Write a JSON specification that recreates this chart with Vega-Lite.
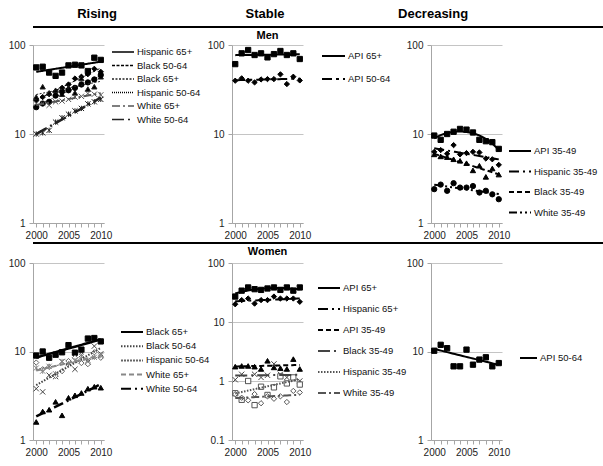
{
"$schema": "https://vega.github.io/schema/vega-lite/v6.json",
"padding": {"left": 8, "top": 0, "right": 2, "bottom": 2},
"background": "white",
"datasets": {
"mr": [
{"s":"Hispanic 65+","yr":2000,"v":56},{"s":"Hispanic 65+","yr":2001,"v":57},{"s":"Hispanic 65+","yr":2002,"v":49},{"s":"Hispanic 65+","yr":2003,"v":45},{"s":"Hispanic 65+","yr":2004,"v":49},{"s":"Hispanic 65+","yr":2005,"v":59},{"s":"Hispanic 65+","yr":2006,"v":60},{"s":"Hispanic 65+","yr":2007,"v":59},{"s":"Hispanic 65+","yr":2008,"v":51},{"s":"Hispanic 65+","yr":2009,"v":72},{"s":"Hispanic 65+","yr":2010,"v":68},
{"s":"Black 50-64","yr":2000,"v":24},{"s":"Black 50-64","yr":2001,"v":26},{"s":"Black 50-64","yr":2002,"v":28},{"s":"Black 50-64","yr":2003,"v":30},{"s":"Black 50-64","yr":2004,"v":33},{"s":"Black 50-64","yr":2005,"v":36},{"s":"Black 50-64","yr":2006,"v":42},{"s":"Black 50-64","yr":2007,"v":44},{"s":"Black 50-64","yr":2008,"v":47},{"s":"Black 50-64","yr":2009,"v":54},{"s":"Black 50-64","yr":2010,"v":50},
{"s":"Black 65+","yr":2000,"v":26},{"s":"Black 65+","yr":2001,"v":34},{"s":"Black 65+","yr":2002,"v":29},{"s":"Black 65+","yr":2003,"v":31},{"s":"Black 65+","yr":2004,"v":28},{"s":"Black 65+","yr":2005,"v":33},{"s":"Black 65+","yr":2006,"v":29},{"s":"Black 65+","yr":2007,"v":42},{"s":"Black 65+","yr":2008,"v":32},{"s":"Black 65+","yr":2009,"v":34},{"s":"Black 65+","yr":2010,"v":44},
{"s":"Hispanic 50-64","yr":2000,"v":20},{"s":"Hispanic 50-64","yr":2001,"v":22},{"s":"Hispanic 50-64","yr":2002,"v":23},{"s":"Hispanic 50-64","yr":2003,"v":27},{"s":"Hispanic 50-64","yr":2004,"v":30},{"s":"Hispanic 50-64","yr":2005,"v":31},{"s":"Hispanic 50-64","yr":2006,"v":33},{"s":"Hispanic 50-64","yr":2007,"v":36},{"s":"Hispanic 50-64","yr":2008,"v":38},{"s":"Hispanic 50-64","yr":2009,"v":41},{"s":"Hispanic 50-64","yr":2010,"v":46},
{"s":"White 65+","yr":2000,"v":22},{"s":"White 65+","yr":2001,"v":22},{"s":"White 65+","yr":2002,"v":21},{"s":"White 65+","yr":2003,"v":23},{"s":"White 65+","yr":2004,"v":23.5},{"s":"White 65+","yr":2005,"v":24.5},{"s":"White 65+","yr":2006,"v":26},{"s":"White 65+","yr":2007,"v":26.5},{"s":"White 65+","yr":2008,"v":28.5},{"s":"White 65+","yr":2009,"v":28},{"s":"White 65+","yr":2010,"v":27.5},
{"s":"White 50-64","yr":2000,"v":10},{"s":"White 50-64","yr":2001,"v":10.3},{"s":"White 50-64","yr":2002,"v":11},{"s":"White 50-64","yr":2003,"v":13.6},{"s":"White 50-64","yr":2004,"v":15.2},{"s":"White 50-64","yr":2005,"v":16.7},{"s":"White 50-64","yr":2006,"v":18.2},{"s":"White 50-64","yr":2007,"v":19.4},{"s":"White 50-64","yr":2008,"v":21.8},{"s":"White 50-64","yr":2009,"v":23},{"s":"White 50-64","yr":2010,"v":24.5}
],
"ms": [
{"s":"API 65+","yr":2000,"v":61},{"s":"API 65+","yr":2001,"v":80.6},{"s":"API 65+","yr":2002,"v":87.8},{"s":"API 65+","yr":2003,"v":77.2},{"s":"API 65+","yr":2004,"v":80.6},{"s":"API 65+","yr":2005,"v":72.6},{"s":"API 65+","yr":2006,"v":79},{"s":"API 65+","yr":2007,"v":85.6},{"s":"API 65+","yr":2008,"v":77.2},{"s":"API 65+","yr":2009,"v":80.6},{"s":"API 65+","yr":2010,"v":69.6},
{"s":"API 50-64","yr":2000,"v":39.7},{"s":"API 50-64","yr":2001,"v":42.2},{"s":"API 50-64","yr":2002,"v":39.7},{"s":"API 50-64","yr":2003,"v":38},{"s":"API 50-64","yr":2004,"v":41},{"s":"API 50-64","yr":2005,"v":41.4},{"s":"API 50-64","yr":2006,"v":41.4},{"s":"API 50-64","yr":2007,"v":46.8},{"s":"API 50-64","yr":2008,"v":36.4},{"s":"API 50-64","yr":2009,"v":44},{"s":"API 50-64","yr":2010,"v":40}
],
"md": [
{"s":"API 35-49","yr":2000,"v":9.6},{"s":"API 35-49","yr":2001,"v":8.6},{"s":"API 35-49","yr":2002,"v":10},{"s":"API 35-49","yr":2003,"v":10.6},{"s":"API 35-49","yr":2004,"v":11.4},{"s":"API 35-49","yr":2005,"v":11.2},{"s":"API 35-49","yr":2006,"v":10.4},{"s":"API 35-49","yr":2007,"v":8.6},{"s":"API 35-49","yr":2008,"v":8.3},{"s":"API 35-49","yr":2009,"v":8.1},{"s":"API 35-49","yr":2010,"v":6.8},
{"s":"Hispanic 35-49","yr":2000,"v":6.3},{"s":"Hispanic 35-49","yr":2001,"v":6.6},{"s":"Hispanic 35-49","yr":2002,"v":6.0},{"s":"Hispanic 35-49","yr":2003,"v":7.5},{"s":"Hispanic 35-49","yr":2004,"v":5.9},{"s":"Hispanic 35-49","yr":2005,"v":6.1},{"s":"Hispanic 35-49","yr":2006,"v":6.3},{"s":"Hispanic 35-49","yr":2007,"v":6.2},{"s":"Hispanic 35-49","yr":2008,"v":5.3},{"s":"Hispanic 35-49","yr":2009,"v":5.2},{"s":"Hispanic 35-49","yr":2010,"v":4.5},
{"s":"Black 35-49","yr":2000,"v":5.9},{"s":"Black 35-49","yr":2001,"v":5.6},{"s":"Black 35-49","yr":2002,"v":5.5},{"s":"Black 35-49","yr":2003,"v":5.2},{"s":"Black 35-49","yr":2004,"v":5.0},{"s":"Black 35-49","yr":2005,"v":4.7},{"s":"Black 35-49","yr":2006,"v":3.9},{"s":"Black 35-49","yr":2007,"v":4.4},{"s":"Black 35-49","yr":2008,"v":3.3},{"s":"Black 35-49","yr":2009,"v":4.1},{"s":"Black 35-49","yr":2010,"v":3.5},
{"s":"White 35-49","yr":2000,"v":2.4},{"s":"White 35-49","yr":2001,"v":2.7},{"s":"White 35-49","yr":2002,"v":2.3},{"s":"White 35-49","yr":2003,"v":2.8},{"s":"White 35-49","yr":2004,"v":2.5},{"s":"White 35-49","yr":2005,"v":2.5},{"s":"White 35-49","yr":2006,"v":2.6},{"s":"White 35-49","yr":2007,"v":2.2},{"s":"White 35-49","yr":2008,"v":2.3},{"s":"White 35-49","yr":2009,"v":2.1},{"s":"White 35-49","yr":2010,"v":1.85}
],
"wr": [
{"s":"Black 65+","yr":2000,"v":9.0},{"s":"Black 65+","yr":2001,"v":10.0},{"s":"Black 65+","yr":2002,"v":8.5},{"s":"Black 65+","yr":2003,"v":9.2},{"s":"Black 65+","yr":2004,"v":9.8},{"s":"Black 65+","yr":2005,"v":11.8},{"s":"Black 65+","yr":2006,"v":9.7},{"s":"Black 65+","yr":2007,"v":10.5},{"s":"Black 65+","yr":2008,"v":14.0},{"s":"Black 65+","yr":2009,"v":14.2},{"s":"Black 65+","yr":2010,"v":13.0},
{"s":"Black 50-64","yr":2000,"v":3.8},{"s":"Black 50-64","yr":2001,"v":3.5},{"s":"Black 50-64","yr":2002,"v":5.4},{"s":"Black 50-64","yr":2003,"v":5.2},{"s":"Black 50-64","yr":2004,"v":7.7},{"s":"Black 50-64","yr":2005,"v":7.5},{"s":"Black 50-64","yr":2006,"v":6.3},{"s":"Black 50-64","yr":2007,"v":9.2},{"s":"Black 50-64","yr":2008,"v":7.6},{"s":"Black 50-64","yr":2009,"v":11.5},{"s":"Black 50-64","yr":2010,"v":9.4},
{"s":"Hispanic 50-64","yr":2000,"v":7.5},{"s":"Hispanic 50-64","yr":2001,"v":6.3},{"s":"Hispanic 50-64","yr":2002,"v":6.7},{"s":"Hispanic 50-64","yr":2003,"v":5.3},{"s":"Hispanic 50-64","yr":2004,"v":6.0},{"s":"Hispanic 50-64","yr":2005,"v":7.8},{"s":"Hispanic 50-64","yr":2006,"v":8.5},{"s":"Hispanic 50-64","yr":2007,"v":7.4},{"s":"Hispanic 50-64","yr":2008,"v":7.2},{"s":"Hispanic 50-64","yr":2009,"v":9.8},{"s":"Hispanic 50-64","yr":2010,"v":8.5},
{"s":"White 65+","yr":2000,"v":6.5},{"s":"White 65+","yr":2001,"v":6.0},{"s":"White 65+","yr":2002,"v":6.8},{"s":"White 65+","yr":2003,"v":5.6},{"s":"White 65+","yr":2004,"v":7.7},{"s":"White 65+","yr":2005,"v":7.3},{"s":"White 65+","yr":2006,"v":7.9},{"s":"White 65+","yr":2007,"v":8.8},{"s":"White 65+","yr":2008,"v":8.0},{"s":"White 65+","yr":2009,"v":8.6},{"s":"White 65+","yr":2010,"v":9.0},
{"s":"White 50-64","yr":2000,"v":1.6},{"s":"White 50-64","yr":2001,"v":2.1},{"s":"White 50-64","yr":2002,"v":2.2},{"s":"White 50-64","yr":2003,"v":2.7},{"s":"White 50-64","yr":2004,"v":1.9},{"s":"White 50-64","yr":2005,"v":3.0},{"s":"White 50-64","yr":2006,"v":3.2},{"s":"White 50-64","yr":2007,"v":3.4},{"s":"White 50-64","yr":2008,"v":3.8},{"s":"White 50-64","yr":2009,"v":4.0},{"s":"White 50-64","yr":2010,"v":3.9}
],
"ws": [
{"s":"API 65+","yr":2000,"v":27},{"s":"API 65+","yr":2001,"v":34},{"s":"API 65+","yr":2002,"v":38.5},{"s":"API 65+","yr":2003,"v":36},{"s":"API 65+","yr":2004,"v":35},{"s":"API 65+","yr":2005,"v":37},{"s":"API 65+","yr":2006,"v":38.5},{"s":"API 65+","yr":2007,"v":35},{"s":"API 65+","yr":2008,"v":38.5},{"s":"API 65+","yr":2009,"v":34},{"s":"API 65+","yr":2010,"v":38.5},
{"s":"Hispanic 65+","yr":2000,"v":20},{"s":"Hispanic 65+","yr":2001,"v":23.5},{"s":"Hispanic 65+","yr":2002,"v":25},{"s":"Hispanic 65+","yr":2003,"v":20.5},{"s":"Hispanic 65+","yr":2004,"v":23.5},{"s":"Hispanic 65+","yr":2005,"v":23.5},{"s":"Hispanic 65+","yr":2006,"v":27},{"s":"Hispanic 65+","yr":2007,"v":25},{"s":"Hispanic 65+","yr":2008,"v":25},{"s":"Hispanic 65+","yr":2009,"v":25},{"s":"Hispanic 65+","yr":2010,"v":22},
{"s":"API 35-49","yr":2000,"v":1.75},{"s":"API 35-49","yr":2001,"v":1.8},{"s":"API 35-49","yr":2002,"v":1.8},{"s":"API 35-49","yr":2003,"v":1.75},{"s":"API 35-49","yr":2004,"v":1.6},{"s":"API 35-49","yr":2005,"v":2.2},{"s":"API 35-49","yr":2006,"v":1.7},{"s":"API 35-49","yr":2007,"v":1.65},{"s":"API 35-49","yr":2008,"v":1.6},{"s":"API 35-49","yr":2009,"v":2.35},{"s":"API 35-49","yr":2010,"v":1.6},
{"s":"Black 35-49","yr":2000,"v":1.05},{"s":"Black 35-49","yr":2001,"v":1.3},{"s":"Black 35-49","yr":2002,"v":1.0},{"s":"Black 35-49","yr":2003,"v":1.3},{"s":"Black 35-49","yr":2004,"v":1.15},{"s":"Black 35-49","yr":2005,"v":1.25},{"s":"Black 35-49","yr":2006,"v":1.95},{"s":"Black 35-49","yr":2007,"v":1.3},{"s":"Black 35-49","yr":2008,"v":1.15},{"s":"Black 35-49","yr":2009,"v":1.1},{"s":"Black 35-49","yr":2010,"v":1.0},
{"s":"Hispanic 35-49","yr":2000,"v":0.62},{"s":"Hispanic 35-49","yr":2001,"v":0.48},{"s":"Hispanic 35-49","yr":2002,"v":1.0},{"s":"Hispanic 35-49","yr":2003,"v":0.39},{"s":"Hispanic 35-49","yr":2004,"v":0.8},{"s":"Hispanic 35-49","yr":2005,"v":0.58},{"s":"Hispanic 35-49","yr":2006,"v":0.78},{"s":"Hispanic 35-49","yr":2007,"v":1.2},{"s":"Hispanic 35-49","yr":2008,"v":0.91},{"s":"Hispanic 35-49","yr":2009,"v":1.15},{"s":"Hispanic 35-49","yr":2010,"v":0.87},
{"s":"White 35-49","yr":2000,"v":0.6},{"s":"White 35-49","yr":2001,"v":0.52},{"s":"White 35-49","yr":2002,"v":0.47},{"s":"White 35-49","yr":2003,"v":0.6},{"s":"White 35-49","yr":2004,"v":0.42},{"s":"White 35-49","yr":2005,"v":0.55},{"s":"White 35-49","yr":2006,"v":0.5},{"s":"White 35-49","yr":2007,"v":0.55},{"s":"White 35-49","yr":2008,"v":0.44},{"s":"White 35-49","yr":2009,"v":0.68},{"s":"White 35-49","yr":2010,"v":0.64}
],
"wd": [
{"s":"API 50-64","yr":2000,"v":10.2},{"s":"API 50-64","yr":2001,"v":11.9},{"s":"API 50-64","yr":2002,"v":10.9},{"s":"API 50-64","yr":2003,"v":6.8},{"s":"API 50-64","yr":2004,"v":6.8},{"s":"API 50-64","yr":2005,"v":10.5},{"s":"API 50-64","yr":2006,"v":7.1},{"s":"API 50-64","yr":2007,"v":8.1},{"s":"API 50-64","yr":2008,"v":8.6},{"s":"API 50-64","yr":2009,"v":6.8},{"s":"API 50-64","yr":2010,"v":7.4}
]
},
"spacing": 2,
"resolve": {"scale": {"x":"independent","y":"independent","shape":"independent","fill":"independent","stroke":"independent","strokeDash":"independent"},"legend": {"shape":"independent","fill":"independent","stroke":"independent","strokeDash":"independent"}},
"vconcat": [
{
 "width": 574, "height": 27,
 "layer": [
  {"data": {"values": [{"c":"Rising"},{"c":"Stable"},{"c":"Decreasing"}]},
   "mark": {"type":"text","fontSize":13,"fontWeight":"bold","font":"Liberation Sans","color":"#000","dy":0.5},
   "encoding": {"x": {"field":"c","type":"nominal","sort":null,"scale":{"type":"point","padding":0.708,"align":0.269},"axis":null},"text":{"field":"c","type":"nominal"}}},
  {"data": {"values": [{}]},
   "mark": {"type":"rule","strokeWidth":2,"color":"#000"},
   "encoding": {"y": {"datum":0,"type":"quantitative","scale":{"domain":[0,1]},"axis":null}}}
 ]
},
{
 "hconcat": [
  {
   "width": 71, "height": 178,
   "data": {"name": "mr"},
   "encoding": {
    "x": {"field":"yr","type":"quantitative","scale":{"domain":[1999.5,2010.5],"nice":false,"zero":false},"axis":{"values":[2000,2001,2002,2003,2004,2005,2006,2007,2008,2009,2010],"format":"d","labelExpr":"datum.value % 5 == 0 ? datum.label : ''","grid":false,"labelOverlap":false,"labelFlush":false,"labelPadding":3}},
    "y": {"field":"v","type":"quantitative","scale":{"type":"log","domain":[1,100],"nice":false},"axis":{"values":[1,10,100],"format":"~g","grid":true,"labelPadding":4}}
   },
   "layer": [
    {"mark": {"type":"point","size":28,"strokeWidth":1,"opacity":1},
     "encoding": {
      "shape": {"field":"s","type":"nominal","scale":{"domain":["White 50-64","White 65+","Hispanic 50-64","Black 65+","Black 50-64","Hispanic 65+"],"range":["M-1,-1L1,1M1,-1L-1,1M0,-1L0,1","M-1,-1L1,1M1,-1L-1,1","circle","triangle-up","diamond","square"]},"legend":null},
      "fill": {"field":"s","type":"nominal","scale":{"domain":["White 50-64","White 65+","Hispanic 50-64","Black 65+","Black 50-64","Hispanic 65+"],"range":["transparent","transparent","#000","#000","#000","#000"]},"legend":null},
      "stroke": {"field":"s","type":"nominal","scale":{"domain":["Hispanic 65+","Black 50-64","Black 65+","Hispanic 50-64","White 65+","White 50-64"],"range":["#000","#000","#222","#000","#555","#222"]},"legend":{"title":null,"orient":"none","legendX":78,"legendY":2,"direction":"vertical","symbolType":"stroke","symbolSize":484,"clipHeight":10,"rowPadding":3.5,"labelFontSize":9.5,"labelOffset":2,"padding":0,"symbolStrokeWidth":1.6}}
     }},
    {"transform": [{"regression":"v","on":"yr","groupby":["s"],"method":"exp","extent":[2000,2010]}],
     "mark": {"type":"line"},
     "encoding": {
      "stroke": {"field":"s","type":"nominal","scale":{"domain":["Hispanic 65+","Black 50-64","Black 65+","Hispanic 50-64","White 65+","White 50-64"],"range":["#000","#000","#222","#000","#555","#222"]},"legend":{"title":null,"orient":"none","legendX":78,"legendY":2,"direction":"vertical","symbolType":"stroke","symbolSize":484,"clipHeight":10,"rowPadding":3.5,"labelFontSize":9.5,"labelOffset":2,"padding":0,"symbolStrokeWidth":1.6}},
      "strokeDash": {"field":"s","type":"nominal","scale":{"domain":["Hispanic 65+","Black 50-64","Black 65+","Hispanic 50-64","White 65+","White 50-64"],"range":[[1,0],[3,1.5],[2,1.5],[1,1],[8,3,2,3],[12,4,2,4]]},"legend":{"title":null,"orient":"none","legendX":78,"legendY":2,"direction":"vertical","symbolType":"stroke","symbolSize":484,"clipHeight":10,"rowPadding":3.5,"labelFontSize":9.5,"labelOffset":2,"padding":0,"symbolStrokeWidth":1.6}},
      "strokeWidth": {"condition":[{"test":"datum.s == 'White 50-64'","value":2.5},{"test":"datum.s == 'Hispanic 65+' || datum.s == 'White 65+'","value":2}],"value":1}
     }}
   ]
  },
  {
   "width": 71, "height": 178,
   "title": {"text":"Men","fontSize":11,"fontWeight":"bold","font":"Liberation Sans","offset":-1,"anchor":"middle","frame":"group","color":"#000"},
   "data": {"name": "ms"},
   "encoding": {
    "x": {"field":"yr","type":"quantitative","scale":{"domain":[1999.5,2010.5],"nice":false,"zero":false},"axis":{"values":[2000,2001,2002,2003,2004,2005,2006,2007,2008,2009,2010],"format":"d","labelExpr":"datum.value % 5 == 0 ? datum.label : ''","grid":false,"labelOverlap":false,"labelFlush":false,"labelPadding":3}},
    "y": {"field":"v","type":"quantitative","scale":{"type":"log","domain":[1,100],"nice":false},"axis":{"values":[1,10,100],"format":"~g","grid":true,"labelPadding":4}}
   },
   "layer": [
    {"mark": {"type":"point","size":28,"strokeWidth":1,"opacity":1,"fill":"#000"},
     "encoding": {
      "shape": {"field":"s","type":"nominal","scale":{"domain":["API 50-64","API 65+"],"range":["diamond","square"]},"legend":null},
      "stroke": {"field":"s","type":"nominal","scale":{"domain":["API 65+","API 50-64"],"range":["#000","#000"]},"legend":{"title":null,"orient":"none","legendX":89,"legendY":6,"direction":"vertical","symbolType":"stroke","symbolSize":529,"clipHeight":10,"rowPadding":13,"labelFontSize":9.5,"labelOffset":2,"padding":0,"symbolStrokeWidth":2}}
     }},
    {"transform": [{"regression":"v","on":"yr","groupby":["s"],"method":"exp","extent":[2000,2010]}],
     "mark": {"type":"line","strokeWidth":2},
     "encoding": {
      "stroke": {"field":"s","type":"nominal","scale":{"domain":["API 65+","API 50-64"],"range":["#000","#000"]},"legend":{"title":null,"orient":"none","legendX":89,"legendY":6,"direction":"vertical","symbolType":"stroke","symbolSize":529,"clipHeight":10,"rowPadding":13,"labelFontSize":9.5,"labelOffset":2,"padding":0,"symbolStrokeWidth":2}},
      "strokeDash": {"field":"s","type":"nominal","scale":{"domain":["API 65+","API 50-64"],"range":[[1,0],[10,4,3,4]]},"legend":{"title":null,"orient":"none","legendX":89,"legendY":6,"direction":"vertical","symbolType":"stroke","symbolSize":529,"clipHeight":10,"rowPadding":13,"labelFontSize":9.5,"labelOffset":2,"padding":0,"symbolStrokeWidth":2}}
     }}
   ]
  },
  {
   "width": 71, "height": 178,
   "data": {"name": "md"},
   "encoding": {
    "x": {"field":"yr","type":"quantitative","scale":{"domain":[1999.5,2010.5],"nice":false,"zero":false},"axis":{"values":[2000,2001,2002,2003,2004,2005,2006,2007,2008,2009,2010],"format":"d","labelExpr":"datum.value % 5 == 0 ? datum.label : ''","grid":false,"labelOverlap":false,"labelFlush":false,"labelPadding":3}},
    "y": {"field":"v","type":"quantitative","scale":{"type":"log","domain":[1,100],"nice":false},"axis":{"values":[1,10,100],"format":"~g","grid":true,"labelPadding":4}}
   },
   "layer": [
    {"mark": {"type":"point","size":28,"strokeWidth":1,"opacity":1,"fill":"#000"},
     "encoding": {
      "shape": {"field":"s","type":"nominal","scale":{"domain":["White 35-49","Black 35-49","Hispanic 35-49","API 35-49"],"range":["circle","triangle-up","diamond","square"]},"legend":null},
      "stroke": {"field":"s","type":"nominal","scale":{"domain":["API 35-49","Hispanic 35-49","Black 35-49","White 35-49"],"range":["#000","#000","#000","#000"]},"legend":{"title":null,"orient":"none","legendX":77,"legendY":101,"direction":"vertical","symbolType":"stroke","symbolSize":484,"clipHeight":10,"rowPadding":10.5,"labelFontSize":9.5,"labelOffset":2,"padding":0,"symbolStrokeWidth":2}}
     }},
    {"transform": [{"filter":"datum.s == 'API 35-49'"},{"regression":"v","on":"yr","groupby":["s"],"method":"poly","order":2,"extent":[2000,2010]}],
     "mark": {"type":"line","strokeWidth":2},
     "encoding": {
      "stroke": {"field":"s","type":"nominal","scale":{"domain":["API 35-49","Hispanic 35-49","Black 35-49","White 35-49"],"range":["#000","#000","#000","#000"]},"legend":{"title":null,"orient":"none","legendX":77,"legendY":101,"direction":"vertical","symbolType":"stroke","symbolSize":484,"clipHeight":10,"rowPadding":10.5,"labelFontSize":9.5,"labelOffset":2,"padding":0,"symbolStrokeWidth":2}},
      "strokeDash": {"field":"s","type":"nominal","scale":{"domain":["API 35-49","Hispanic 35-49","Black 35-49","White 35-49"],"range":[[1,0],[10,4,2,4],[5,3],[8,3,2,3,2,3]]},"legend":{"title":null,"orient":"none","legendX":77,"legendY":101,"direction":"vertical","symbolType":"stroke","symbolSize":484,"clipHeight":10,"rowPadding":10.5,"labelFontSize":9.5,"labelOffset":2,"padding":0,"symbolStrokeWidth":2}}
     }},
    {"transform": [{"filter":"datum.s != 'API 35-49'"},{"regression":"v","on":"yr","groupby":["s"],"method":"exp","extent":[2000,2010]}],
     "mark": {"type":"line","strokeWidth":2},
     "encoding": {
      "stroke": {"field":"s","type":"nominal","scale":{"domain":["API 35-49","Hispanic 35-49","Black 35-49","White 35-49"],"range":["#000","#000","#000","#000"]},"legend":{"title":null,"orient":"none","legendX":77,"legendY":101,"direction":"vertical","symbolType":"stroke","symbolSize":484,"clipHeight":10,"rowPadding":10.5,"labelFontSize":9.5,"labelOffset":2,"padding":0,"symbolStrokeWidth":2}},
      "strokeDash": {"field":"s","type":"nominal","scale":{"domain":["API 35-49","Hispanic 35-49","Black 35-49","White 35-49"],"range":[[1,0],[10,4,2,4],[5,3],[8,3,2,3,2,3]]},"legend":{"title":null,"orient":"none","legendX":77,"legendY":101,"direction":"vertical","symbolType":"stroke","symbolSize":484,"clipHeight":10,"rowPadding":10.5,"labelFontSize":9.5,"labelOffset":2,"padding":0,"symbolStrokeWidth":2}}
     }}
   ]
  }
 ],
 "spacing": 128,
 "bounds": "flush",
 "resolve": {"scale": {"x":"independent","y":"independent","shape":"independent","fill":"independent","stroke":"independent","strokeDash":"independent"},"legend": {"shape":"independent","fill":"independent","stroke":"independent","strokeDash":"independent"}}
},
{
 "width": 574, "height": 1,
 "data": {"values": [{}]},
 "mark": {"type":"rule","strokeWidth":2,"color":"#000"},
 "encoding": {"y": {"datum":0,"type":"quantitative","scale":{"domain":[0,1]},"axis":null}}
},
{
 "hconcat": [
  {
   "width": 71, "height": 177,
   "data": {"name": "wr"},
   "encoding": {
    "x": {"field":"yr","type":"quantitative","scale":{"domain":[1999.5,2010.5],"nice":false,"zero":false},"axis":{"values":[2000,2001,2002,2003,2004,2005,2006,2007,2008,2009,2010],"format":"d","labelExpr":"datum.value % 5 == 0 ? datum.label : ''","grid":false,"labelOverlap":false,"labelFlush":false,"labelPadding":3}},
    "y": {"field":"v","type":"quantitative","scale":{"type":"log","domain":[1,100],"nice":false},"axis":{"values":[1,10,100],"format":"~g","grid":true,"labelPadding":4}}
   },
   "layer": [
    {"mark": {"type":"point","size":28,"strokeWidth":1,"opacity":1},
     "encoding": {
      "shape": {"field":"s","type":"nominal","scale":{"domain":["White 50-64","White 65+","Hispanic 50-64","Black 50-64","Black 65+"],"range":["triangle-up","M-1,-1L1,1M1,-1L-1,1M0,-1L0,1","diamond","M-1,-1L1,1M1,-1L-1,1","square"]},"legend":null},
      "fill": {"field":"s","type":"nominal","scale":{"domain":["White 50-64","White 65+","Hispanic 50-64","Black 50-64","Black 65+"],"range":["#000","transparent","#fff","transparent","#000"]},"legend":null},
      "stroke": {"field":"s","type":"nominal","scale":{"domain":["Black 65+","Black 50-64","Hispanic 50-64","White 65+","White 50-64"],"range":["#000","#444","#666","#888","#000"]},"legend":{"title":null,"orient":"none","legendX":87,"legendY":64,"direction":"vertical","symbolType":"stroke","symbolSize":484,"clipHeight":10,"rowPadding":4.2,"labelFontSize":9.5,"labelOffset":2,"padding":0,"symbolStrokeWidth":2}}
     }},
    {"transform": [{"regression":"v","on":"yr","groupby":["s"],"method":"exp","extent":[2000,2010]}],
     "mark": {"type":"line"},
     "encoding": {
      "stroke": {"field":"s","type":"nominal","scale":{"domain":["Black 65+","Black 50-64","Hispanic 50-64","White 65+","White 50-64"],"range":["#000","#444","#666","#888","#000"]},"legend":{"title":null,"orient":"none","legendX":87,"legendY":64,"direction":"vertical","symbolType":"stroke","symbolSize":484,"clipHeight":10,"rowPadding":4.2,"labelFontSize":9.5,"labelOffset":2,"padding":0,"symbolStrokeWidth":2}},
      "strokeDash": {"field":"s","type":"nominal","scale":{"domain":["Black 65+","Black 50-64","Hispanic 50-64","White 65+","White 50-64"],"range":[[1,0],[1.5,1.5],[2,1],[5,3],[10,4,2,4]]},"legend":{"title":null,"orient":"none","legendX":87,"legendY":64,"direction":"vertical","symbolType":"stroke","symbolSize":484,"clipHeight":10,"rowPadding":4.2,"labelFontSize":9.5,"labelOffset":2,"padding":0,"symbolStrokeWidth":2}},
      "strokeWidth": {"condition":[{"test":"datum.s == 'Hispanic 50-64'","value":1},{"test":"datum.s == 'Black 65+' || datum.s == 'White 50-64'","value":2.5}],"value":2}
     }}
   ]
  },
  {
   "width": 71, "height": 177,
   "title": {"text":"Women","fontSize":11,"fontWeight":"bold","font":"Liberation Sans","offset":1,"anchor":"middle","frame":"group","color":"#000"},
   "data": {"name": "ws"},
   "encoding": {
    "x": {"field":"yr","type":"quantitative","scale":{"domain":[1999.5,2010.5],"nice":false,"zero":false},"axis":{"values":[2000,2001,2002,2003,2004,2005,2006,2007,2008,2009,2010],"format":"d","labelExpr":"datum.value % 5 == 0 ? datum.label : ''","grid":false,"labelOverlap":false,"labelFlush":false,"labelPadding":3}},
    "y": {"field":"v","type":"quantitative","scale":{"type":"log","domain":[0.1,100],"nice":false},"axis":{"values":[0.1,1,10,100],"format":"~g","grid":true,"labelPadding":4}}
   },
   "layer": [
    {"mark": {"type":"point","size":28,"strokeWidth":1,"opacity":1},
     "encoding": {
      "shape": {"field":"s","type":"nominal","scale":{"domain":["White 35-49","Hispanic 35-49","Black 35-49","API 35-49","Hispanic 65+","API 65+"],"range":["diamond","square","M-1,-1L1,1M1,-1L-1,1","triangle-up","diamond","square"]},"legend":null},
      "fill": {"field":"s","type":"nominal","scale":{"domain":["White 35-49","Hispanic 35-49","Black 35-49","API 35-49","Hispanic 65+","API 65+"],"range":["#fff","#fff","transparent","#000","#000","#000"]},"legend":null},
      "stroke": {"field":"s","type":"nominal","scale":{"domain":["API 65+","Hispanic 65+","API 35-49","Black 35-49","Hispanic 35-49","White 35-49"],"range":["#000","#000","#000","#444","#555","#555"]},"legend":{"title":null,"orient":"none","legendX":85,"legendY":20,"direction":"vertical","symbolType":"stroke","symbolSize":484,"clipHeight":10,"rowPadding":11,"labelFontSize":9.5,"labelOffset":2,"padding":0,"symbolStrokeWidth":2}}
     }},
    {"transform": [{"filter":"datum.s == 'API 65+'"},{"regression":"v","on":"yr","groupby":["s"],"method":"poly","order":2,"extent":[2000,2010]}],
     "mark": {"type":"line","strokeWidth":2},
     "encoding": {
      "stroke": {"field":"s","type":"nominal","scale":{"domain":["API 65+","Hispanic 65+","API 35-49","Black 35-49","Hispanic 35-49","White 35-49"],"range":["#000","#000","#000","#444","#555","#555"]},"legend":{"title":null,"orient":"none","legendX":85,"legendY":20,"direction":"vertical","symbolType":"stroke","symbolSize":484,"clipHeight":10,"rowPadding":11,"labelFontSize":9.5,"labelOffset":2,"padding":0,"symbolStrokeWidth":2}},
      "strokeDash": {"field":"s","type":"nominal","scale":{"domain":["API 65+","Hispanic 65+","API 35-49","Black 35-49","Hispanic 35-49","White 35-49"],"range":[[1,0],[10,4,2,4],[5,3],[12,4,2,4],[1.5,1.5],[8,3,2,3]]},"legend":{"title":null,"orient":"none","legendX":85,"legendY":20,"direction":"vertical","symbolType":"stroke","symbolSize":484,"clipHeight":10,"rowPadding":11,"labelFontSize":9.5,"labelOffset":2,"padding":0,"symbolStrokeWidth":2}}
     }},
    {"transform": [{"filter":"datum.s != 'API 65+'"},{"regression":"v","on":"yr","groupby":["s"],"method":"exp","extent":[2000,2010]}],
     "mark": {"type":"line","strokeWidth":2},
     "encoding": {
      "stroke": {"field":"s","type":"nominal","scale":{"domain":["API 65+","Hispanic 65+","API 35-49","Black 35-49","Hispanic 35-49","White 35-49"],"range":["#000","#000","#000","#444","#555","#555"]},"legend":{"title":null,"orient":"none","legendX":85,"legendY":20,"direction":"vertical","symbolType":"stroke","symbolSize":484,"clipHeight":10,"rowPadding":11,"labelFontSize":9.5,"labelOffset":2,"padding":0,"symbolStrokeWidth":2}},
      "strokeDash": {"field":"s","type":"nominal","scale":{"domain":["API 65+","Hispanic 65+","API 35-49","Black 35-49","Hispanic 35-49","White 35-49"],"range":[[1,0],[10,4,2,4],[5,3],[12,4,2,4],[1.5,1.5],[8,3,2,3]]},"legend":{"title":null,"orient":"none","legendX":85,"legendY":20,"direction":"vertical","symbolType":"stroke","symbolSize":484,"clipHeight":10,"rowPadding":11,"labelFontSize":9.5,"labelOffset":2,"padding":0,"symbolStrokeWidth":2}}
     }}
   ]
  },
  {
   "width": 71, "height": 177,
   "data": {"name": "wd"},
   "encoding": {
    "x": {"field":"yr","type":"quantitative","scale":{"domain":[1999.5,2010.5],"nice":false,"zero":false},"axis":{"values":[2000,2001,2002,2003,2004,2005,2006,2007,2008,2009,2010],"format":"d","labelExpr":"datum.value % 5 == 0 ? datum.label : ''","grid":false,"labelOverlap":false,"labelFlush":false,"labelPadding":3}},
    "y": {"field":"v","type":"quantitative","scale":{"type":"log","domain":[1,100],"nice":false},"axis":{"values":[1,10,100],"format":"~g","grid":true,"labelPadding":4}}
   },
   "layer": [
    {"mark": {"type":"point","size":28,"strokeWidth":1,"opacity":1,"fill":"#000","shape":"square"},
     "encoding": {
      "stroke": {"field":"s","type":"nominal","scale":{"domain":["API 50-64"],"range":["#000"]},"legend":{"title":null,"orient":"none","legendX":88,"legendY":90,"direction":"vertical","symbolType":"stroke","symbolSize":289,"clipHeight":10,"labelFontSize":9.5,"labelOffset":2,"padding":0,"symbolStrokeWidth":2}}
     }},
    {"transform": [{"regression":"v","on":"yr","groupby":["s"],"method":"exp","extent":[2000,2010]}],
     "mark": {"type":"line","strokeWidth":2},
     "encoding": {
      "stroke": {"field":"s","type":"nominal","scale":{"domain":["API 50-64"],"range":["#000"]},"legend":{"title":null,"orient":"none","legendX":88,"legendY":90,"direction":"vertical","symbolType":"stroke","symbolSize":289,"clipHeight":10,"labelFontSize":9.5,"labelOffset":2,"padding":0,"symbolStrokeWidth":2}}
     }}
   ]
  }
 ],
 "spacing": 128,
 "bounds": "flush",
 "resolve": {"scale": {"x":"independent","y":"independent","shape":"independent","fill":"independent","stroke":"independent","strokeDash":"independent"},"legend": {"shape":"independent","fill":"independent","stroke":"independent","strokeDash":"independent"}}
}
],
"config": {
 "font": "Liberation Sans",
 "view": {"stroke": null},
 "axis": {"labelFont":"Liberation Sans","labelFontSize":10,"labelColor":"#222","domainColor":"#a6a6a6","tickColor":"#a6a6a6","gridColor":"#c4c4c4","tickSize":4,"title":null,"domainWidth":1,"gridWidth":1,"tickWidth":1},
 "legend": {"labelFont":"Liberation Sans","labelColor":"#111","symbolFillColor":"transparent"}
}
}
